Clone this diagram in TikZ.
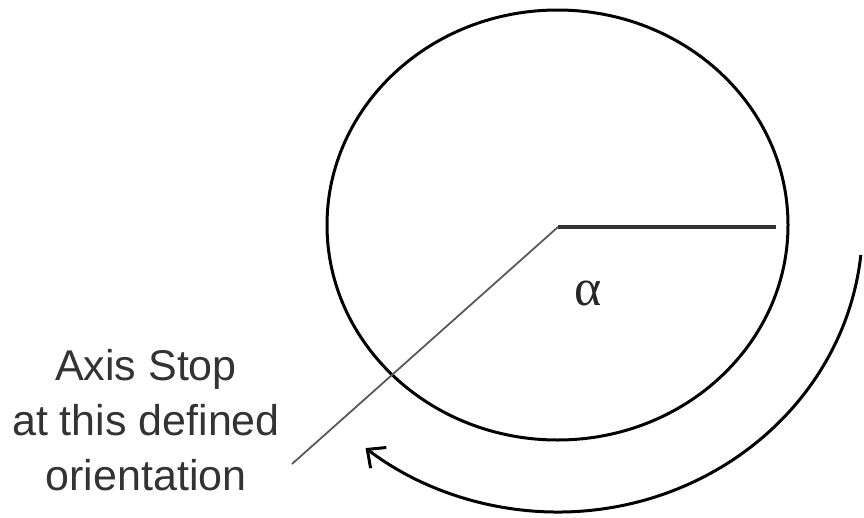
\documentclass[tikz,border=0pt]{standalone}
\usepackage{fontspec}
\setmainfont{Liberation Sans}
\newfontfamily\alphafont{Liberation Serif}
\usetikzlibrary{arrows.meta}
\begin{document}
\begin{tikzpicture}[x=1pt,y=-1pt,
  ring/.style={draw=black,line width=3pt},
  radiusline/.style={draw=black!80,line width=3.5pt},
  stopline/.style={draw=black!65,line width=1.8pt},
  txt/.style={font=\fontsize{43}{55}\selectfont,text=black!80,inner sep=0pt,anchor=base},
]
\useasboundingbox (0,0) rectangle (864,517);
\coordinate (c) at (557.5,225);
\draw[ring] (c) ellipse [x radius=230.5, y radius=215];
\coordinate (o) at (558,227);
\coordinate (r) at (776,227);
\coordinate (s) at (292,464);
\draw[radiusline] (o) -- (r);
\draw[stopline] (o) -- (s);
\draw[ring,-{Straight Barb[length=14pt,width=26pt]}] (c) ++(6:305 and 287)
  arc [start angle=6, end angle=129, x radius=305, y radius=287];
\node[txt] (t1) at (146,380) {Axis Stop};
\node[txt] (t2) at (146,435) {at this defined};
\node[txt] (t3) at (146,490) {orientation};
\node[font=\alphafont\fontsize{52}{52}\selectfont,text=black!85,inner sep=0pt] (alpha) at (588,293) {α};
\end{tikzpicture}
\end{document}
